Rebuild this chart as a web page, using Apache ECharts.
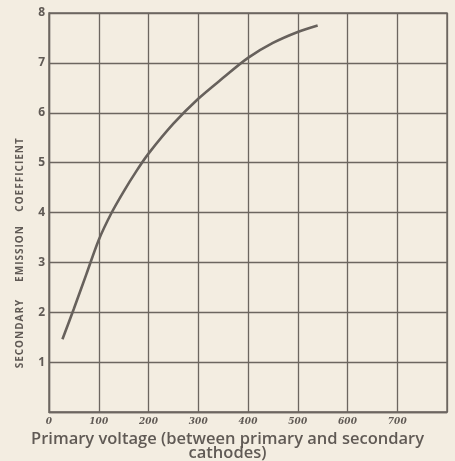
<!DOCTYPE html>
<html>
<head>
<meta charset="utf-8">
<script src="https://cdn.jsdelivr.net/npm/echarts@6/dist/echarts.min.js"></script>
<style>
  html, body { margin: 0; padding: 0; background: #f3ede1; }
  #chart { width: 455px; height: 461px; }
</style>
</head>
<body>
<div id="chart"></div>
<script>
// Primary voltage (V) and the secondary emission coefficient measured at it
const voltage = [27, 50, 75, 100, 125, 150, 175, 200, 250, 300, 350, 400, 450, 500, 540];
const coefficient = [1.46, 2.07, 2.76, 3.45, 3.98, 4.42, 4.82, 5.18, 5.78, 6.28, 6.70, 7.10, 7.40, 7.62, 7.75];

// Axis tick labels
const xTickLabels = ['0', '100', '200', '300', '400', '500', '600', '700', ''];
const yTickLabels = ['', '1', '2', '3', '4', '5', '6', '7', '8'];

// Vertical axis title, set as three spaced words
const yTitleWords = ['SECONDARY', 'EMISSION', 'COEFFICIENT'];
const yTitleCentres = [334, 254, 175];

const ink = '#6c6660';
const inkText = '#605a55';
const spaced = (w) => w.split('').join('\u200A');

const chart = echarts.init(document.getElementById('chart'), null, { renderer: 'canvas' });

chart.setOption({
  backgroundColor: '#f3ede1',
  animation: false,
  title: {
    text: 'Primary voltage (between primary and secondary\ncathodes)',
    left: 'center',
    top: 427,
    textStyle: {
      fontFamily: 'Open Sans',
      fontSize: 16.5,
      fontWeight: 600,
      color: inkText,
      lineHeight: 14
    }
  },
  grid: {
    left: 49, top: 13, right: 8, bottom: 49,
    show: true,
    borderColor: ink,
    borderWidth: 1.4,
    backgroundColor: 'transparent'
  },
  xAxis: {
    type: 'value',
    min: 0, max: 800, interval: 100,
    axisLine: { show: true, lineStyle: { color: ink, width: 1.4 } },
    axisTick: { show: false },
    splitLine: { show: true, lineStyle: { color: ink, width: 1.3 } },
    axisLabel: {
      margin: 5,
      fontFamily: 'DejaVu Serif',
      fontStyle: 'italic',
      fontWeight: 'bold',
      fontSize: 9,
      color: inkText,
      formatter: (v) => xTickLabels[Math.round(v / 100)]
    }
  },
  yAxis: {
    type: 'value',
    min: 0, max: 8, interval: 1,
    axisLine: { show: true, lineStyle: { color: ink, width: 1.4 } },
    axisTick: { show: false },
    splitLine: { show: true, lineStyle: { color: ink, width: 1.3 } },
    axisLabel: {
      margin: 4,
      fontFamily: 'Open Sans',
      fontWeight: 'bold',
      fontSize: 12,
      color: inkText,
      formatter: (v) => yTickLabels[Math.round(v)]
    }
  },
  graphic: yTitleWords.map((w, i) => ({
    type: 'text',
    x: 20,
    y: yTitleCentres[i],
    rotation: Math.PI / 2,
    style: {
      text: spaced(w),
      font: 'bold 10px "Open Sans"',
      fill: inkText,
      align: 'center',
      verticalAlign: 'middle'
    }
  })),
  series: [{
    type: 'line',
    data: voltage.map((v, i) => [v, coefficient[i]]),
    smooth: 0.3,
    showSymbol: false,
    lineStyle: { color: '#67615c', width: 2.6 }
  }]
});
</script>
</body>
</html>
